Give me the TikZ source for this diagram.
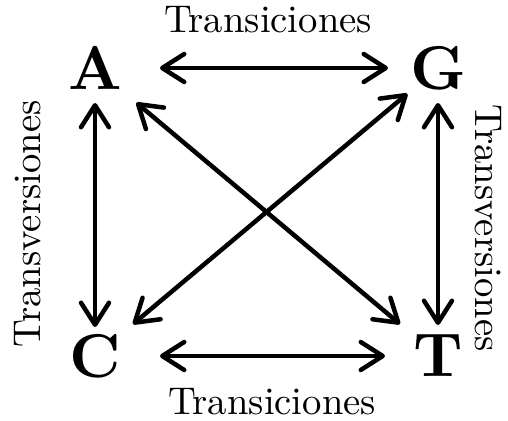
\documentclass[tikz,border=0pt]{standalone}
\usetikzlibrary{arrows.meta}

\begin{document}
\begin{tikzpicture}[
    base/.style={inner sep=0pt, outer sep=0pt, scale=4.4,
                 font=\normalsize\bfseries},
    lbl/.style={inner sep=0pt, scale=2.75, font=\normalsize},
    link/.style={<->, line width=3.2pt},
    >={Straight Barb[length=5.5mm, width=7mm, round]}
  ]
  \useasboundingbox (0, 0) rectangle (12.7, 10.5);

  \node[base] (A) at (2.375, 8.8) {A};
  \node[base] (G) at (10.95, 8.8) {G};
  \node[base] (C) at (2.375, 1.6) {C};
  \node[base] (T) at (10.95, 1.6) {T};

  \node[lbl] (top) at (6.7, 10.0) {Transiciones};
  \node[lbl] (bottom) at (6.8, 0.47) {Transiciones};
  \node[lbl, rotate=90] (left) at (0.7, 4.9) {Transversiones};
  \node[lbl, rotate=-90] (right) at (12.2, 4.8) {Transversiones};

  \draw[link, shorten <=1.625cm, shorten >=1.25cm] (A.center) -- (G.center);
  \draw[link, shorten <=1.625cm, shorten >=1.325cm] (C.center) -- (T.center);
  \draw[link, shorten <=0.875cm, shorten >=0.725cm] (A.center) -- (C.center);
  \draw[link, shorten <=0.875cm, shorten >=0.775cm] (G.center) -- (T.center);
  \draw[link, shorten <=1.35cm, shorten >=1.24cm] (A.center) -- (T.center);
  \draw[link, shorten <=1.24cm, shorten >=1.0cm] (C.center) -- (G.center);
\end{tikzpicture}
\end{document}
